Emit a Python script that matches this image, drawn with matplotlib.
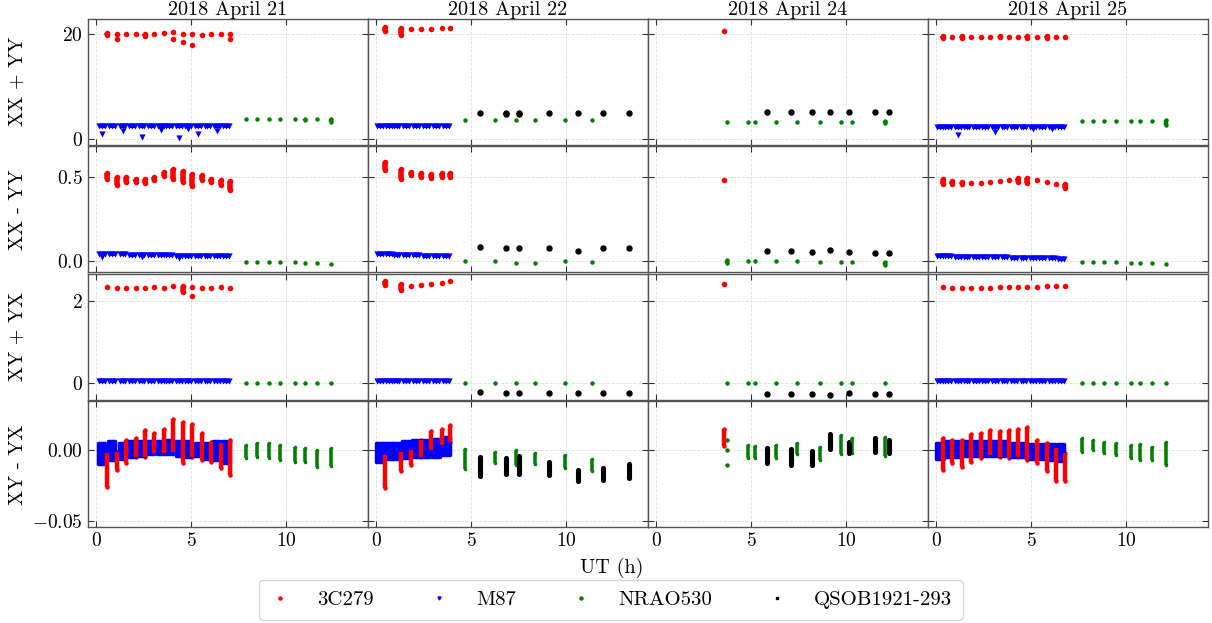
import numpy as np
import matplotlib
matplotlib.use("Agg")
import matplotlib.pyplot as plt
from matplotlib.lines import Line2D
from matplotlib.ticker import MultipleLocator

plt.rcParams.update({
    "font.family": "serif",
    "font.serif": ["cmr10"],
    "mathtext.fontset": "cm",
    "axes.formatter.use_mathtext": True,
    "font.size": 14,
})

days = ["2018 April 21", "2018 April 22", "2018 April 24", "2018 April 25"]
rows = ["XX + YY", "XX - YY", "XY + YX", "XY - YX"]
sources = ["3C279", "M87", "NRAO530", "QSOB1921-293"]

# value conventions: number = single point, (lo, hi) = continuous scan spread,
# [a, b, ...] = separate points inside one scan

# ---- 2018 April 21 ----
a21_3c_t = [0.6, 1.09, 1.58, 2.09, 2.59, 3.07, 3.58, 4.05, 4.56, 5.05, 5.56, 6.05, 6.56, 7.03]
a21_3c_r1 = [(19.7, 20.2), [20.0, 18.9], 20.0, 20.0, (19.6, 19.9), 20.0, 20.1, [20.3, 18.9],
             [20.0, 18.4], [20.0, 17.9], 19.8, 19.9, 20.0, [19.9, 19.0]]
a21_3c_r2 = [(0.49, 0.52), (0.45, 0.50), (0.47, 0.50), (0.47, 0.49), (0.465, 0.485), (0.48, 0.50),
             (0.505, 0.53), (0.49, 0.545), (0.47, 0.535), (0.445, 0.515), (0.48, 0.51), (0.47, 0.49),
             (0.45, 0.48), (0.42, 0.475)]
a21_3c_r3 = [2.33, 2.31, 2.31, 2.30, 2.32, 2.33, 2.32, 2.35, (2.22, 2.35), [2.33, 2.12], 2.30,
             2.32, 2.33, 2.32]
a21_3c_r4 = [(-0.026, -0.002), (-0.0139, -0.0012), (-0.0093, 0.0069), (-0.0046, 0.0086),
             (-0.0046, 0.0139), (-0.0023, 0.0116), (-0.0023, 0.0150), (-0.0012, 0.0220),
             (-0.0093, 0.0197), (-0.0046, 0.0185), (-0.0069, 0.0116), (-0.0081, 0.0058),
             (-0.0127, 0.0046), (-0.0174, 0.0069)]
a21_m87_t = [0.3, 0.83, 1.4, 1.88, 2.4, 2.88, 3.4, 3.84, 4.38, 4.83, 5.37, 5.86, 6.35, 6.83]
a21_m87_r1 = [[2.35, 0.9], 2.35, [2.35, 1.5], 2.35, [2.35, 0.4], 2.35, [2.35, 1.6], 2.35,
              [2.35, 0.2], [2.35, 1.9], [2.35, 0.9], 2.35, [2.35, 1.5], 2.35]
a21_m87_r2 = [[0.042, 0.027], 0.040, 0.040, 0.039, [0.038, 0.022], 0.036, 0.035, 0.035,
              [0.033, 0.017], 0.032, 0.031, 0.030, 0.030, 0.029]
a21_m87_r3 = [0.06, 0.06, 0.06, 0.06, 0.06, 0.06, 0.06, 0.06, 0.06, 0.06, 0.06, 0.06, 0.06, 0.06]
a21_m87_r4 = [(-0.010, 0.005), (-0.007, 0.006), (-0.006, 0.005), (-0.005, 0.006), (-0.004, 0.006),
              (-0.003, 0.006), (-0.003, 0.006), (-0.003, 0.007), (-0.004, 0.006), (-0.005, 0.006),
              (-0.004, 0.005), (-0.006, 0.005), (-0.007, 0.006), (-0.009, 0.006)]
a21_nrao_t = [7.9, 8.47, 9.09, 9.68, 10.46, 11.0, 11.6, 12.37]
a21_nrao_r1 = [3.7, 3.7, 3.7, 3.7, 3.7, (3.5, 3.7), 3.7, (3.2, 3.8)]
a21_nrao_r2 = [-0.008, -0.007, -0.005, -0.006, -0.008, -0.009, -0.011, -0.016]
a21_nrao_r3 = [0.0, 0.0, 0.0, 0.0, 0.0, 0.0, 0.0, 0.0]
a21_nrao_r4 = [(-0.0058, 0.0035), (-0.0046, 0.0046), (-0.0058, 0.0046), (-0.0069, 0.0035),
               (-0.0081, 0.0023), (-0.0081, 0.0012), (-0.0116, 0.0), (-0.0111, 0.0012)]

# ---- 2018 April 22 ----
a22_3c_t = [0.47, 1.32, 1.83, 2.37, 2.88, 3.46, 3.89]
a22_3c_r1 = [(20.6, 21.2), (19.8, 21.0), 20.9, 20.9, 20.9, 21.0, 21.0]
a22_3c_r2 = [(0.54, 0.59), (0.49, 0.545), (0.51, 0.53), (0.50, 0.525), (0.495, 0.515),
             (0.50, 0.52), (0.50, 0.525)]
a22_3c_r3 = [(2.38, 2.48), (2.25, 2.40), 2.36, 2.38, 2.40, 2.44, 2.48]
a22_3c_r4 = [(-0.0266, -0.0035), (-0.0150, -0.0012), (-0.0104, 0.0), (-0.0046, 0.0069),
             (0.0, 0.0134), (0.0035, 0.0150), (0.0058, 0.0174)]
a22_m87_t = [0.21, 0.68, 1.08, 1.58, 2.1, 2.63, 3.16, 3.68]
a22_m87_r1 = [2.35, 2.35, 2.35, 2.35, 2.35, 2.35, 2.35, 2.35]
a22_m87_r2 = [0.043, 0.041, 0.039, 0.037, 0.035, 0.033, 0.031, 0.029]
a22_m87_r3 = [0.05, 0.05, 0.05, 0.05, 0.05, 0.05, 0.05, 0.05]
a22_m87_r4 = [(-0.0081, 0.0046), (-0.0065, 0.005), (-0.0065, 0.005), (-0.0058, 0.006),
              (-0.005, 0.007), (-0.005, 0.007), (-0.005, 0.0075), (-0.0035, 0.0093)]
a22_nrao_t = [4.7, 6.25, 7.38, 8.35, 9.93, 11.38]
a22_nrao_r1 = [3.65, 3.65, 3.65, 3.65, 3.65, 3.65]
a22_nrao_r2 = [0.002, 0.0, -0.010, -0.012, 0.0, -0.005]
a22_nrao_r3 = [0.0, 0.0, 0.0, 0.0, 0.0, 0.0]
a22_nrao_r4 = [(-0.0134, 0.0005), (-0.0093, -0.0012), (-0.0104, 0.0), (-0.0097, -0.0019),
               (-0.0127, -0.0035), (-0.0150, -0.0065)]
a22_qso_t = [5.49, 6.83, 7.53, 9.1, 10.6, 11.95, 13.28]
a22_qso_r1 = [5.0, (4.8, 5.0), (4.8, 5.0), 5.0, 4.9, 5.0, 5.0]
a22_qso_r2 = [0.084, 0.080, 0.080, 0.080, 0.060, 0.076, 0.076]
a22_qso_r3 = [-0.21, -0.22, -0.22, -0.22, -0.24, -0.22, -0.22]
a22_qso_r4 = [(-0.0181, -0.0046), (-0.0167, -0.0053), (-0.0167, -0.0042), (-0.0174, -0.0081),
              (-0.0220, -0.0139), (-0.0208, -0.0127), (-0.0197, -0.0097)]

# ---- 2018 April 24 ----
a24_3c_t = [3.56]
a24_3c_r1 = [20.6]
a24_3c_r2 = [0.48]
a24_3c_r3 = [2.40]
a24_3c_r4 = [(0.0028, 0.0150)]
a24_nrao_t = [3.75, 4.84, 5.19, 6.32, 7.42, 8.6, 9.74, 10.28, 12.04]
a24_nrao_r1 = [3.27, 3.27, 3.27, 3.27, 3.27, 3.27, 3.27, 3.27, (3.1, 3.4)]
a24_nrao_r2 = [(-0.010, 0.005), 0.0, -0.002, 0.0, -0.002, -0.005, -0.008, -0.005, (-0.025, -0.005)]
a24_nrao_r3 = [0.0, 0.0, 0.0, 0.0, 0.0, 0.0, 0.0, 0.0, 0.0]
a24_nrao_r4 = [[-0.0104, 0.0069, 0.0], (-0.0058, 0.0035), (-0.0053, 0.0028), (-0.0058, 0.0035),
               (-0.0028, 0.0051), (-0.0069, 0.0023), (-0.0028, 0.0104), (-0.0023, 0.0081),
               (-0.0039, 0.0093)]
a24_qso_t = [5.82, 7.09, 8.21, 9.16, 10.16, 11.49, 12.23]
a24_qso_r1 = [5.1, 5.1, 5.1, 5.1, 5.1, 5.1, 5.1]
a24_qso_r2 = [0.060, 0.060, 0.055, 0.065, 0.055, 0.050, 0.050]
a24_qso_r3 = [-0.25, -0.25, -0.26, -0.27, -0.24, -0.25, -0.25]
a24_qso_r4 = [(-0.0093, 0.0012), (-0.0104, 0.0005), (-0.0104, -0.0007), (0.0005, 0.0111),
              (-0.0023, 0.0058), (-0.0012, 0.0081), (-0.0023, 0.0069)]

# ---- 2018 April 25 ----
a25_3c_t = [0.39, 0.86, 1.37, 1.84, 2.35, 2.84, 3.35, 3.83, 4.33, 4.81, 5.32, 5.81, 6.32, 6.79]
a25_3c_r1 = [(19.2, 19.5), 19.4, (19.1, 19.5), 19.4, 19.4, 19.4, (19.3, 19.5), 19.4, 19.4,
             (19.1, 19.5), 19.4, (19.2, 19.5), 19.4, 19.4]
a25_3c_r2 = [(0.46, 0.49), (0.455, 0.475), (0.455, 0.47), 0.465, 0.465, 0.47, 0.475, 0.48,
             (0.47, 0.495), (0.465, 0.495), 0.48, 0.47, 0.46, (0.435, 0.455)]
a25_3c_r3 = [2.33, 2.32, 2.31, 2.31, 2.32, 2.32, 2.33, 2.33, 2.34, 2.34, 2.34, 2.35, 2.35, 2.36]
a25_3c_r4 = [(-0.0139, 0.0081), (-0.0093, 0.0069), (-0.0116, 0.0069), (-0.0081, 0.0111),
             (-0.0058, 0.0120), (-0.0035, 0.0139), (-0.0046, 0.0134), (-0.0058, 0.0139),
             (-0.0046, 0.0144), (-0.0069, 0.0158), (-0.0093, 0.0069), (-0.0150, 0.0046),
             (-0.0220, 0.0012), (-0.0220, -0.0023)]
a25_m87_t = [0.21, 0.65, 1.14, 1.61, 2.1, 2.58, 3.1, 3.6, 4.1, 4.6, 5.09, 5.56, 6.09, 6.56]
a25_m87_r1 = [2.3, 2.3, [2.3, 0.8], 2.3, 2.3, 2.3, [2.3, 1.3], 2.3, 2.3, 2.3, [2.3, 1.8], 2.3,
              [2.3, 1.8], 2.3]
a25_m87_r2 = [0.030, 0.028, 0.027, 0.026, 0.025, 0.024, 0.023, 0.022, 0.021, 0.020, 0.019,
              0.018, 0.016, 0.015]
a25_m87_r3 = [0.05, 0.05, 0.05, 0.05, 0.05, 0.05, 0.05, 0.05, 0.05, 0.05, 0.05, 0.05, 0.05, 0.05]
a25_m87_r4 = [(-0.006, 0.005), (-0.005, 0.006), (-0.005, 0.006), (-0.004, 0.006), (-0.004, 0.006),
              (-0.004, 0.006), (-0.004, 0.006), (-0.004, 0.006), (-0.005, 0.005), (-0.005, 0.005),
              (-0.006, 0.004), (-0.006, 0.004), (-0.007, 0.004), (-0.008, 0.004)]
a25_nrao_t = [7.67, 8.23, 8.84, 9.46, 10.23, 10.75, 11.37, 12.1]
a25_nrao_r1 = [3.33, 3.33, 3.33, 3.33, 3.33, 3.33, 3.33, (2.6, 3.5)]
a25_nrao_r2 = [-0.003, -0.005, -0.005, -0.008, -0.010, -0.010, -0.012, -0.015]
a25_nrao_r3 = [0.0, 0.0, 0.0, 0.0, 0.0, 0.0, 0.0, 0.0]
a25_nrao_r4 = [(-0.0012, 0.0081), (0.0, 0.0069), (-0.0019, 0.0058), (-0.0035, 0.0051),
               (-0.0058, 0.0035), (-0.0069, 0.0042), (-0.0069, 0.0023), (-0.0104, 0.0058)]

ylims = [(-1.1, 22.8), (-0.065, 0.68), (-0.39, 2.65), (-0.054, 0.034)]
ysteps = [20, 0.5, 2, 0.05]

colors = {"3C279": "red", "M87": "blue", "NRAO530": "green", "QSOB1921-293": "black"}
dot_size = {"3C279": 4.0, "NRAO530": 3.2, "QSOB1921-293": 4.6}

panels = [
    {"3C279": (a21_3c_t, [a21_3c_r1, a21_3c_r2, a21_3c_r3, a21_3c_r4]),
     "M87": (a21_m87_t, [a21_m87_r1, a21_m87_r2, a21_m87_r3, a21_m87_r4]),
     "NRAO530": (a21_nrao_t, [a21_nrao_r1, a21_nrao_r2, a21_nrao_r3, a21_nrao_r4])},
    {"3C279": (a22_3c_t, [a22_3c_r1, a22_3c_r2, a22_3c_r3, a22_3c_r4]),
     "M87": (a22_m87_t, [a22_m87_r1, a22_m87_r2, a22_m87_r3, a22_m87_r4]),
     "NRAO530": (a22_nrao_t, [a22_nrao_r1, a22_nrao_r2, a22_nrao_r3, a22_nrao_r4]),
     "QSOB1921-293": (a22_qso_t, [a22_qso_r1, a22_qso_r2, a22_qso_r3, a22_qso_r4])},
    {"3C279": (a24_3c_t, [a24_3c_r1, a24_3c_r2, a24_3c_r3, a24_3c_r4]),
     "NRAO530": (a24_nrao_t, [a24_nrao_r1, a24_nrao_r2, a24_nrao_r3, a24_nrao_r4]),
     "QSOB1921-293": (a24_qso_t, [a24_qso_r1, a24_qso_r2, a24_qso_r3, a24_qso_r4])},
    {"3C279": (a25_3c_t, [a25_3c_r1, a25_3c_r2, a25_3c_r3, a25_3c_r4]),
     "M87": (a25_m87_t, [a25_m87_r1, a25_m87_r2, a25_m87_r3, a25_m87_r4]),
     "NRAO530": (a25_nrao_t, [a25_nrao_r1, a25_nrao_r2, a25_nrao_r3, a25_nrao_r4])},
]


def draw_dots(ax, t, vals, color, d, lw_scale=1.0):
    # d = marker diameter in points
    s = d ** 2
    for ti, v in zip(t, vals):
        if isinstance(v, tuple):
            ax.vlines(ti, v[0], v[1], color=color, lw=d * lw_scale)
            ax.scatter([ti, ti], list(v), s=s * lw_scale ** 2, color=color, lw=0)
        elif isinstance(v, list):
            ax.scatter([ti] * len(v), v, s=s, color=color, lw=0)
        else:
            ax.scatter([ti], [v], s=s, color=color, lw=0)


def draw_m87(ax, t, vals, band):
    w = 0.3
    for ti, v in zip(t, vals):
        if band:
            ax.fill_between([ti - 0.19, ti + 0.19], v[0], v[1], color="blue", lw=2.5)
            continue
        pts = v if isinstance(v, list) else [v]
        top = max(pts)
        ax.hlines(top, ti - w / 2, ti + w / 2, color="blue", lw=3.0)
        ax.scatter([ti - w / 2, ti, ti + w / 2], [top] * 3, marker="v", s=20, color="blue", lw=0)
        for p in pts:
            if p != top:
                ax.scatter([ti], [p], marker="v", s=20, color="blue", lw=0)


fig, axes = plt.subplots(4, 4, figsize=(12.12, 6.23), dpi=100, sharex=True, sharey="row",
                         gridspec_kw=dict(hspace=0.015, wspace=0))
fig.subplots_adjust(left=0.0726, right=0.9967, top=0.9695, bottom=0.154)

for c in range(4):
    for r in range(4):
        ax = axes[r, c]
        for src in sources:
            if src not in panels[c]:
                continue
            t, rowvals = panels[c][src]
            if src == "M87":
                draw_m87(ax, t, rowvals[r], band=(r == 3))
            else:
                draw_dots(ax, t, rowvals[r], colors[src], dot_size[src],
                          lw_scale=0.8 if r == 3 else 1.0)
        ax.set_xlim(-0.42, 14.3)
        ax.set_ylim(*ylims[r])
        ax.xaxis.set_major_locator(MultipleLocator(5))
        ax.yaxis.set_major_locator(MultipleLocator(ysteps[r]))
        ax.grid(True, color="#dddddd", lw=0.6, ls="--")
        ax.set_axisbelow(True)
        ax.tick_params(direction="in", top=True, right=True, length=4, width=0.8,
                       color="#333333", labelsize=14)
        for sp in ax.spines.values():
            sp.set_color("#555555")
            sp.set_linewidth(1.0)
    axes[0, c].set_title(days[c], fontsize=14.5, pad=1)

for r in range(4):
    axes[r, 0].set_ylabel(rows[r], fontsize=14.5)
fig.align_ylabels(axes[:, 0])

fig.text(0.505, 0.088, "UT (h)", ha="center", va="center", fontsize=14.5)

handles = [
    Line2D([], [], ls="", marker="o", color="red", ms=2.2),
    Line2D([], [], ls="", marker="v", color="blue", ms=2.2),
    Line2D([], [], ls="", marker="o", color="green", ms=2.2),
    Line2D([], [], ls="", marker="s", color="black", ms=2.0),
]
fig.legend(handles, sources, loc="center", bbox_to_anchor=(0.504, 0.037), ncol=4, fontsize=15,
           frameon=True, handlelength=1.0, handletextpad=1.3, columnspacing=2.6,
           borderpad=0.5, edgecolor="#cccccc")

fig.savefig("out.png", dpi=100)
